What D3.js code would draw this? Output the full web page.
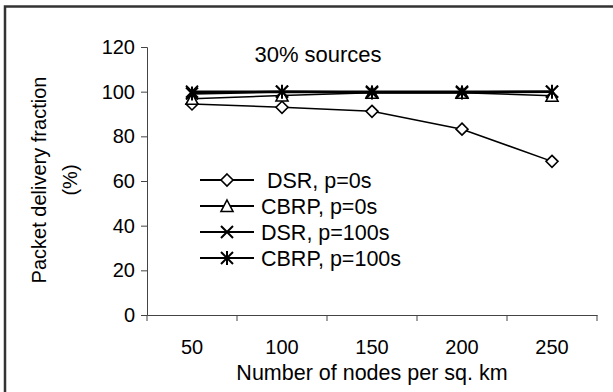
<!DOCTYPE html>
<html>
<head>
<meta charset="utf-8">
<script src="https://cdn.jsdelivr.net/npm/d3@7"></script>
<style>
  body { margin: 0; background: #fff; }
  text { font-family: "Liberation Sans", Arial, sans-serif; fill: #000; }
</style>
</head>
<body>
<div id="chart"></div>
<script>
const nodes = ["50", "100", "150", "200", "250"];
const dsr0 = [94.5, 93, 91.2, 83.2, 68.8];
const cbrp0 = [96.8, 98.3, 99.5, 99.5, 98.2];
const dsr100 = [100, 100, 100, 100, 100];
const cbrp100 = [99.2, 100, 99.6, 99.6, 100];
const yTicks = [0, 20, 40, 60, 80, 100, 120];
const legendNames = [" DSR, p=0s", "CBRP, p=0s", "DSR, p=100s", "CBRP, p=100s"];

const W = 613, H = 392;
const margin = { top: 47, right: 16, bottom: 77, left: 147 };
const width = W - margin.left - margin.right;
const height = H - margin.top - margin.bottom;

const svg = d3.select("#chart").append("svg")
    .attr("width", W).attr("height", H);

// outer frame (only top and left visible)
svg.append("path")
    .attr("d", `M5,${H} V6.5 H${W}`)
    .attr("fill", "none").attr("stroke", "#333").attr("stroke-width", 2.5);

const g = svg.append("g").attr("transform", `translate(${margin.left},${margin.top})`);

const x = d3.scaleBand().domain(nodes).range([0, width]);
const y = d3.scaleLinear().domain([0, 120]).range([height, 0]);
const cx = d => x(d) + x.bandwidth() / 2;

// y axis
const yAxis = g.append("g")
    .call(d3.axisLeft(y).tickValues(yTicks).tickSize(6).tickPadding(6));
yAxis.select(".domain").attr("stroke", "#444");
yAxis.selectAll(".tick line").attr("stroke", "#444");
yAxis.selectAll("text").style("font-size", "20px");

// x axis: labels at band centres, ticks at band edges
const xAxis = g.append("g")
    .attr("transform", `translate(0,${height})`)
    .call(d3.axisBottom(x).tickSize(0).tickPadding(25));
xAxis.select(".domain").attr("stroke", "#444");
xAxis.selectAll("text").style("font-size", "20px");
const edges = nodes.map(d => x(d) + x.bandwidth()).concat([0]);
xAxis.selectAll(".edge").data(edges).enter().append("line")
    .attr("x1", d => d).attr("x2", d => d)
    .attr("y1", 0).attr("y2", 6)
    .attr("stroke", "#444");

// titles
g.append("text")
    .attr("x", 171).attr("y", 15)
    .attr("text-anchor", "middle")
    .style("font-size", "22px")
    .text("30% sources");

svg.append("text")
    .attr("x", 372).attr("y", 380)
    .attr("text-anchor", "middle")
    .style("font-size", "21.5px")
    .text("Number of nodes per sq. km");

const yl = svg.append("text")
    .attr("transform", "translate(46,180) rotate(-90)")
    .attr("text-anchor", "middle")
    .style("font-size", "20px");
yl.append("tspan").attr("x", 0).attr("y", 0).text("Packet delivery fraction");
yl.append("tspan").attr("x", 0).attr("y", 31).text("(%)");

// markers
function marker(sel, type) {
  if (type === "diamond") {
    sel.append("path").attr("d", "M0,-6 L6,0 L0,6 L-6,0 Z")
      .attr("fill", "#fff").attr("stroke", "#000").attr("stroke-width", 1.6);
  } else if (type === "triangle") {
    sel.append("path").attr("d", "M0,-6 L6,5.5 L-6,5.5 Z")
      .attr("fill", "#fff").attr("stroke", "#000").attr("stroke-width", 1.6);
  } else if (type === "x") {
    sel.append("path").attr("d", "M-6,-6 L6,6 M-6,6 L6,-6")
      .attr("stroke", "#000").attr("stroke-width", 2);
  } else {
    sel.append("path").attr("d", "M-6,-6 L6,6 M-6,6 L6,-6 M0,-7 V7")
      .attr("stroke", "#000").attr("stroke-width", 2);
  }
}

const series = [
  { values: dsr0, type: "diamond", sw: 1.5 },
  { values: cbrp0, type: "triangle", sw: 1.5 },
  { values: dsr100, type: "x", sw: 2.5 },
  { values: cbrp100, type: "star", sw: 2.5 }
];

const line = d3.line().x(d => cx(d.n)).y(d => y(d.v));

series.forEach(s => {
  const pts = nodes.map((n, i) => ({ n: n, v: s.values[i] }));
  g.append("path").datum(pts)
    .attr("d", line)
    .attr("fill", "none").attr("stroke", "#000").attr("stroke-width", s.sw);
  g.selectAll(null).data(pts).enter().append("g")
    .attr("transform", d => `translate(${cx(d.n)},${y(d.v)})`)
    .each(function() { marker(d3.select(this), s.type); });
});

// legend
const leg = svg.append("g").attr("transform", "translate(200,180)");
series.forEach((s, i) => {
  const row = leg.append("g").attr("transform", `translate(0,${i * 26})`);
  row.append("line").attr("x1", 0).attr("x2", 54).attr("y1", 0).attr("y2", 0)
    .attr("stroke", "#000").attr("stroke-width", 2);
  marker(row.append("g").attr("transform", "translate(27,0)"), s.type);
  row.append("text").attr("x", 61).attr("y", 7.5)
    .style("font-size", "21.5px").style("white-space", "pre")
    .text(legendNames[i]);
});
</script>
</body>
</html>
